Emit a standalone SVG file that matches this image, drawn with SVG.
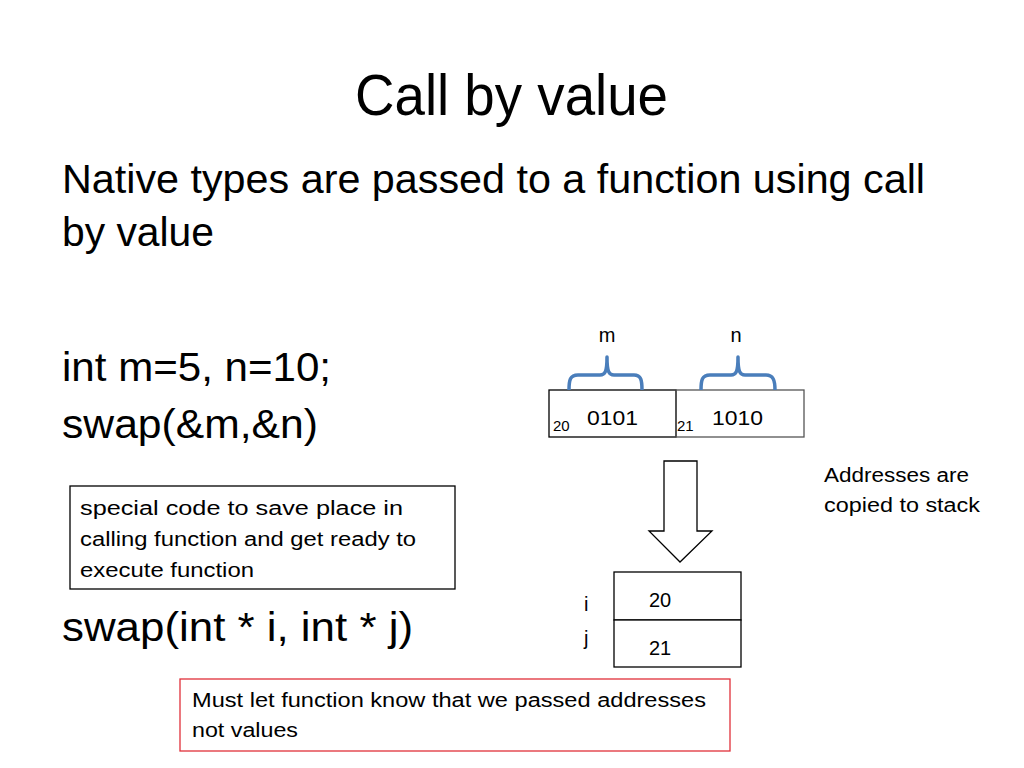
<svg xmlns="http://www.w3.org/2000/svg" width="1024" height="768" viewBox="0 0 1024 768">
<style>
text{font-family:"Liberation Sans","Open Sans",sans-serif;fill:#000}
.t{font-size:57px}
.b{font-size:40px}
.s{font-size:20px}
.xs{font-size:15px}
.box{fill:#fff;stroke:#000;stroke-width:1.3}
.brace{fill:none;stroke:#4a7ebb;stroke-width:3.5;stroke-linejoin:round}
</style>
<rect width="1024" height="768" fill="#fff"/>
<g id="title"><text class="t" x="355" y="115" textLength="313" lengthAdjust="spacingAndGlyphs">Call by value</text></g>
<g id="body">
<text class="b" x="62" y="193" textLength="863" lengthAdjust="spacingAndGlyphs">Native types are passed to a function using call</text>
<text class="b" x="62" y="246" textLength="152" lengthAdjust="spacingAndGlyphs">by value</text>
<text class="b" x="62" y="381" textLength="269" lengthAdjust="spacingAndGlyphs">int m=5, n=10;</text>
<text class="b" x="62" y="438" textLength="256" lengthAdjust="spacingAndGlyphs">swap(&amp;m,&amp;n)</text>
<text class="b" x="62" y="641" textLength="351" lengthAdjust="spacingAndGlyphs">swap(int * i, int * j)</text>
</g>
<g id="note1">
<rect class="box" x="70" y="486" width="385" height="103"/>
<text class="s" x="80" y="515" textLength="323" lengthAdjust="spacingAndGlyphs">special code to save place in</text>
<text class="s" x="80" y="546" textLength="336" lengthAdjust="spacingAndGlyphs">calling function and get ready to</text>
<text class="s" x="80" y="577" textLength="174" lengthAdjust="spacingAndGlyphs">execute function</text>
</g>
<g id="mem-m">
<rect class="box" x="549" y="390" width="127" height="47"/>
<text class="xs" x="553" y="431">20</text>
<text class="s" x="587" y="425" textLength="51" lengthAdjust="spacingAndGlyphs">0101</text>
</g>
<g id="mem-n">
<rect x="676" y="390" width="128" height="47" fill="none" stroke="#555" stroke-width="1.3"/>
<text class="xs" x="677" y="431">21</text>
<text class="s" x="712" y="425" textLength="51" lengthAdjust="spacingAndGlyphs">1010</text>
</g>
<g id="brace-m">
<path class="brace" d="M569,390 C569,380 570,375 578,375 L600,375 C605,375 607,372 607,357 C607,372 609,375 614,375 L634,375 C641,375 642,380 642,390"/>
<text class="s" x="607" y="342" text-anchor="middle">m</text>
</g>
<g id="brace-n">
<path class="brace" d="M701,390 C701,380 702,375 710,375 L731,375 C736,375 738,372 738,357 C738,372 740,375 745,375 L766,375 C773,375 775,380 775,390"/>
<text class="s" x="736" y="342" text-anchor="middle">n</text>
</g>
<g id="connectors">
<path d="M664,461 L697,461 L697,531 L712,531 L680,562 L649,531 L664,531 Z" fill="#fff" stroke="#000" stroke-width="1.3"/>
</g>
<g id="addr-label">
<text class="s" x="824" y="482" textLength="145" lengthAdjust="spacingAndGlyphs">Addresses are</text>
<text class="s" x="824" y="512" textLength="156" lengthAdjust="spacingAndGlyphs">copied to stack</text>
</g>
<g id="stack">
<rect class="box" x="614" y="572" width="127" height="48"/>
<rect class="box" x="614" y="620" width="127" height="47"/>
<text class="s" x="649" y="607">20</text>
<text class="s" x="649" y="655">21</text>
<text class="s" x="584" y="611">i</text>
<text class="s" x="584" y="645">j</text>
</g>
<g id="note2">
<rect x="180" y="679" width="550" height="72" fill="#fff" stroke="#e0303a" stroke-width="1.3"/>
<text class="s" x="192" y="707" textLength="514" lengthAdjust="spacingAndGlyphs">Must let function know that we passed addresses</text>
<text class="s" x="192" y="737" textLength="106" lengthAdjust="spacingAndGlyphs">not values</text>
</g>
</svg>
